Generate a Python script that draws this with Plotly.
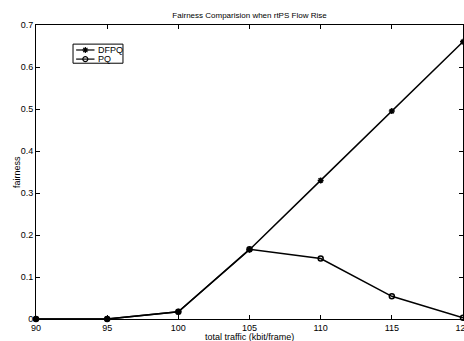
import plotly.graph_objects as go

traffic = [90, 95, 100, 105, 110, 115, 120]
dfpq = [0.0, 0.0, 0.017, 0.165, 0.33, 0.495, 0.66]
pq = [0.0, 0.0, 0.017, 0.166, 0.144, 0.054, 0.003]
x_ticks = [90, 95, 100, 105, 110, 115, 120]
y_ticks = [0, 0.1, 0.2, 0.3, 0.4, 0.5, 0.6, 0.7]
y_tick_text = ["0", "0.1", "0.2", "0.3", "0.4", "0.5", "0.6", "0.7"]
series_names = ["DFPQ", "PQ"]
series_symbols = ["asterisk-open", "circle-open"]
x_title = "total traffic (kbit/frame)"
y_title = "fairness"

FAM = "Liberation Sans, Arial, sans-serif"
font = dict(family=FAM, size=9, color="black")

fig = go.Figure()
for name, vals, sym in zip(series_names, [dfpq, pq], series_symbols):
    fig.add_trace(go.Scatter(x=traffic, y=vals, name=name, mode="lines+markers",
                             line=dict(color="black", width=1.5),
                             marker=dict(symbol=sym, size=5, color="black",
                                         line=dict(color="black", width=1.5)),
                             cliponaxis=False, showlegend=False))

# custom compact legend (MATLAB style) on an overlay axis in paper-like units
box = dict(x0=0.0867, x1=0.2037, y0=0.870, y1=0.935)
rows_y = [0.915, 0.884]
line_x = [0.094, 0.137]
fig.add_shape(type="rect", xref="paper", yref="paper", x0=box["x0"], x1=box["x1"],
              y0=box["y0"], y1=box["y1"], line=dict(color="black", width=1),
              fillcolor="white", layer="below")
for name, sym, ry in zip(series_names, series_symbols, rows_y):
    fig.add_trace(go.Scatter(x=line_x, y=[ry, ry], xaxis="x2", yaxis="y2",
                             mode="lines", line=dict(color="black", width=1.2),
                             showlegend=False, hoverinfo="skip"))
    fig.add_trace(go.Scatter(x=[sum(line_x) / 2], y=[ry], xaxis="x2", yaxis="y2",
                             mode="markers",
                             marker=dict(symbol=sym, size=5, color="black",
                                         line=dict(color="black", width=1.2)),
                             showlegend=False, hoverinfo="skip"))
    fig.add_annotation(x=0.141, y=ry, xref="paper", yref="paper", text=name,
                       showarrow=False, xanchor="left", yanchor="middle",
                       font=dict(family=FAM, size=9, color="black"))

# axis titles placed as in the reference
fig.add_annotation(x=0.5, y=-0.06, xref="paper", yref="paper", text=x_title,
                   showarrow=False, xanchor="center", yanchor="middle",
                   font=dict(family=FAM, size=9, color="black"))
fig.add_annotation(x=-0.0445, y=0.5, xref="paper", yref="paper", text=y_title,
                   showarrow=False, xanchor="center", yanchor="middle", textangle=-90,
                   font=dict(family=FAM, size=9, color="black"))

fig.update_layout(
    width=464, height=341,
    margin=dict(l=36, r=1, t=25, b=22),
    paper_bgcolor="white", plot_bgcolor="white",
    font=font,
    title=dict(text="Fairness Comparision when rtPS Flow Rise", x=0.5, xanchor="center",
               xref="paper", y=1, yref="container", yanchor="top", pad=dict(t=12),
               font=dict(family=FAM, size=8, color="black")),
    showlegend=False,
    xaxis=dict(range=[90, 120], tickvals=x_ticks, ticks="inside", ticklen=4,
               tickcolor="black", linecolor="black", linewidth=1, mirror="ticks",
               showgrid=False, zeroline=False, ticklabeloverflow="allow",
               automargin=False),
    yaxis=dict(range=[0, 0.7], tickvals=y_ticks, ticktext=y_tick_text, ticks="inside",
               ticklen=4, tickcolor="black", linecolor="black", linewidth=1, mirror="ticks",
               showgrid=False, zeroline=False, ticklabeloverflow="allow",
               automargin=False),
    xaxis2=dict(overlaying="x", range=[0, 1], visible=False, fixedrange=True),
    yaxis2=dict(overlaying="y", range=[0, 1], visible=False, fixedrange=True),
)

fig.write_html("out.html")
